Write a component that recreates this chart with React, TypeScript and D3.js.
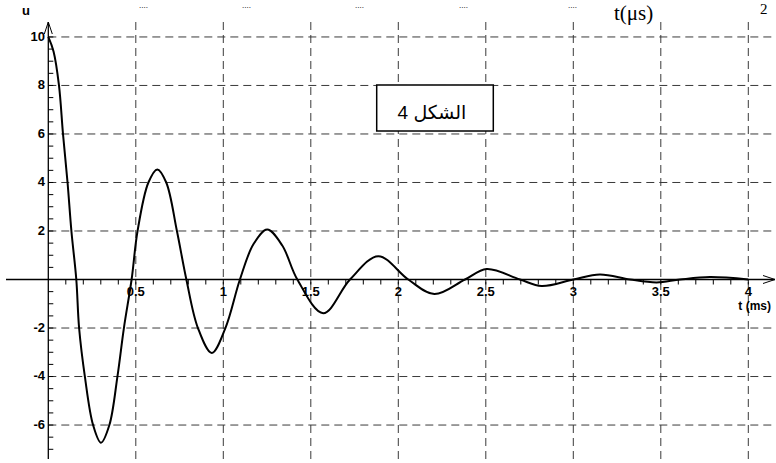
import React from "react";
import * as d3 from "d3";

// time (ms) and voltage u
const tData = [0, 0.03, 0.061, 0.084, 0.11, 0.132, 0.16, 0.176, 0.209, 0.256, 0.301, 0.349, 0.395, 0.432, 0.476, 0.51, 0.572, 0.623, 0.674, 0.735, 0.789, 0.855, 0.934, 1.012, 1.095, 1.172, 1.251, 1.337, 1.423, 1.571, 1.724, 1.886, 2.057, 2.206, 2.381, 2.505, 2.695, 2.819, 3.0, 3.152, 3.324, 3.476, 3.61, 3.781, 4.0];
const uData = [10, 9.4, 8, 6, 4, 2, 0, -2, -4, -6, -6.73, -6, -4, -2, 0, 2, 4, 4.54, 4, 2, 0, -2, -3.03, -2, 0, 1.45, 2.06, 1.4, 0, -1.39, 0, 0.96, 0, -0.6, 0, 0.43, 0, -0.27, 0, 0.21, 0, -0.12, 0, 0.1, 0];

const xTickValues = [0.5, 1, 1.5, 2, 2.5, 3, 3.5, 4];
const xTickLabels = ["0.5", "1", "1.5", "2", "2.5", "3", "3.5", "4"];
const yTickValues = [10, 8, 6, 4, 2, -2, -4, -6];
const yTickLabels = ["10", "8", "6", "4", "2", "-2", "-4", "-6"];
const legendText = "الشكل 4";
const xAxisTitle = "t (ms)";
const yAxisTitle = "u";
const topFragments = ["....", "....", "....", "....", "...."];
const topFragmentX = [139, 242, 355, 459, 568];

const W = 776;
const H = 463;

export default function App() {
  const x = d3.scaleLinear().domain([0, 4]).range([48.3, 748.3]);
  const y = d3.scaleLinear().domain([-7.4, 10.6]).range([459, 22.4]);
  const x0 = x(0);
  const y0 = y(0);

  const pts = tData.map((t, i) => [t, uData[i]] as [number, number]);
  const line = d3
    .line<[number, number]>()
    .x((d) => x(d[0]))
    .y((d) => y(d[1]))
    .curve(d3.curveCatmullRom.alpha(0.5));

  const xMinor = d3.range(1, 41).map((i) => i / 10);
  const yMinor = d3.range(-14, 21).map((i) => i / 2).filter((v) => v !== 0);

  const bold = { fontFamily: "Liberation Sans, Arial, sans-serif", fontWeight: 700 as const };
  const serif = "Liberation Serif, Times New Roman, serif";
  const gridStroke = "#3a3a3a";

  return (
    <svg
      width={W}
      height={H}
      viewBox={`0 0 ${W} ${H}`}
      style={{ position: "absolute", left: 0, top: 0, background: "#fff" }}
    >
      <rect x={0} y={0} width={W} height={H} fill="#fff" />
      {/* text fragments along the top */}
      {topFragments.map((s, i) => (
        <text key={"f" + i} x={topFragmentX[i]} y={8} fontFamily={serif} fontSize={9}>
          {s}
        </text>
      ))}
      <text x={614} y={20} fontFamily={serif} fontSize={21}>
        t(μs)
      </text>
      <text x={760} y={14} fontFamily={serif} fontSize={15}>
        2
      </text>

      {/* horizontal grid */}
      {yTickValues.map((v) => (
        <line key={"hg" + v} x1={x0} x2={W} y1={y(v)} y2={y(v)} stroke={gridStroke} strokeWidth={1} strokeDasharray="8,5" />
      ))}
      {/* vertical grid */}
      {xTickValues.map((v) => (
        <line key={"vg" + v} x1={x(v)} x2={x(v)} y1={22} y2={H} stroke={gridStroke} strokeWidth={1} strokeDasharray="8,5" />
      ))}

      {/* axes */}
      <line x1={6} x2={775} y1={y0} y2={y0} stroke="#000" strokeWidth={1.3} />
      <polyline points={`763,${y0 - 4} 775,${y0} 763,${y0 + 4}`} fill="none" stroke="#000" strokeWidth={1} />
      <line x1={x0} x2={x0} y1={22} y2={459} stroke="#000" strokeWidth={1.3} />
      <polyline points={`${x0 - 4},34 ${x0},22 ${x0 + 4},34`} fill="none" stroke="#000" strokeWidth={1} />

      {xMinor.map((v) => (
        <line key={"xt" + v} x1={x(v)} x2={x(v)} y1={y0} y2={y0 + 5} stroke="#000" strokeWidth={1} />
      ))}
      {yMinor.map((v) => (
        <line key={"yt" + v} x1={x0} x2={x0 + 5} y1={y(v)} y2={y(v)} stroke="#000" strokeWidth={1} />
      ))}

      {/* legend box */}
      <rect x={376.7} y={85} width={116.6} height={46} fill="#fff" stroke="#000" strokeWidth={1.5} />
      <text x={432} y={118.5} textAnchor="middle" fontFamily="Liberation Sans, Arial, DejaVu Sans, sans-serif" fontSize={19}>
        {legendText}
      </text>

      {/* curve */}
      <path d={line(pts) || ""} fill="none" stroke="#000" strokeWidth={2} strokeLinejoin="round" />

      {/* labels */}
      {xTickValues.map((v, i) => (
        <text key={"xl" + v} x={x(v)} y={296} textAnchor="middle" fontSize={13} {...bold}>
          {xTickLabels[i]}
        </text>
      ))}
      {yTickValues.map((v, i) => (
        <text key={"yl" + v} x={45} y={y(v) + 3.8} textAnchor="end" fontSize={13} {...bold}>
          {yTickLabels[i]}
        </text>
      ))}
      <text x={771} y={310} textAnchor="end" fontSize={12} {...bold}>
        {xAxisTitle}
      </text>
      <text x={22} y={15} fontSize={13} {...bold}>
        {yAxisTitle}
      </text>
    </svg>
  );
}
